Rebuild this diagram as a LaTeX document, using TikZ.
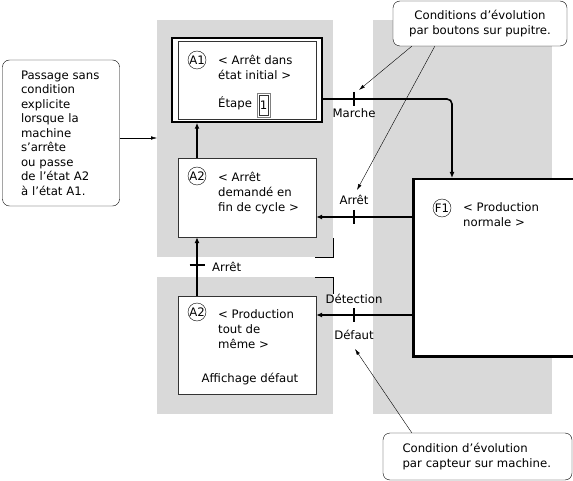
\documentclass[tikz,border=0pt]{standalone}
\usepackage{fontspec}
\setmainfont{DejaVu Sans}
\usetikzlibrary{arrows.meta,positioning}

\begin{document}
\begin{tikzpicture}[x=1pt,y=-1pt,
  font=\fontsize{11.7}{15}\selectfont,
  zone/.style={fill=black!15},
  etape/.style={draw=black!80,fill=white,inner sep=0pt},
  repere/.style={draw,circle,minimum size=18pt,inner sep=0pt},
  txt/.style={align=left,inner sep=0pt,anchor=base west},
  lbl/.style={inner sep=0pt,anchor=base},
  lien/.style={line width=1.6pt,-{Latex[length=6pt,width=5pt]}},
  trait/.style={line width=1.2pt},
  bulle/.style={draw,rounded corners=7pt,fill=white,inner sep=0pt},
  fleche/.style={-{Latex[length=6pt,width=3.5pt]}}]

\useasboundingbox (0,0) rectangle (573,481);
\clip (0,0) rectangle (573,481);
\fill[white] (0,0) rectangle (573,481);

% zones grises
\fill[zone] (157,20) rectangle (333,257);
\fill[zone] (157,277) rectangle (333,414);
\fill[zone] (373,20) rectangle (552,414);
\draw (315,257) -| (333,238);
\draw (315,277) -| (333,294);

% etapes
\node[etape,draw=black,line width=1.5pt,minimum width=150pt,minimum height=84pt] (a1) at (247,80) {};
\node[etape,minimum width=138pt,minimum height=78pt] (a1in) at (a1.center) {};
\node[etape,minimum width=138pt,minimum height=79pt] (a2) at (247,197.5) {};
\node[etape,minimum width=138pt,minimum height=98pt] (a2b) at (247,345) {};
\node[etape,draw=black,line width=2.5pt,minimum width=180pt,minimum height=177pt,anchor=north west] (f1) at (412,178) {};

% textes (base = derniere ligne)
\node[repere] (ra1) at (197,60) {A1};
\node[txt] (ta1) at (218,80) {< Arrêt dans\\état initial >};
\node[txt] (ea1) at (218,108) {Étape};
\node[draw=black!50,line width=0.8pt,minimum width=13pt,minimum height=24pt,inner sep=0pt] (n1) at (263.5,105) {};
\node[draw=black!80,line width=0.5pt,minimum width=9pt,minimum height=20pt,inner sep=0pt] (n1in) at (n1.center) {1};

\node[repere] (ra2) at (197,176) {A2};
\node[txt] (ta2) at (218,212) {< Arrêt\\demandé en\\fin de cycle >};

\node[repere] (ra2b) at (197,312) {A2};
\node[txt] (ta2b) at (218,348) {< Production\\tout de\\même >};
\node[lbl] (aff) at (250,382) {Affichage défaut};

\node[repere] (rf1) at (442,208) {F1};
\node[txt] (tf1) at (463,227) {< Production\\normale >};

% transitions
\coordinate (t1) at (354,99);
\coordinate (t2) at (354,217);
\coordinate (t3) at (354,315);
\coordinate (t4) at (197,265);
\coordinate (coin) at (452,99);

\draw[lien] (ra2 |- a2.north) -- (ra2 |- a1.south);
\draw[lien] (ra2b |- a2b.north) -- (ra2 |- a2.south);
\draw[lien,rounded corners=5pt] (a1.east |- t1) -- (coin) -- (coin |- f1.north);
\draw[lien] (f1.west |- t2) -- (a2.east |- t2);
\draw[lien] (f1.west |- t3) -- (a2b.east |- t3);

\draw[trait] ([yshift=7pt]t1) -- ([yshift=-7pt]t1);
\draw[trait] ([yshift=7pt]t2) -- ([yshift=-7pt]t2);
\draw[trait] ([yshift=7pt]t3) -- ([yshift=-7pt]t3);
\draw[trait] ([xshift=-7.5pt]t4) -- ([xshift=7.5pt]t4);

\node[lbl] (lm) at (354,118) {Marche};
\node[lbl] (la) at (354,205) {Arrêt};
\node[lbl] (ld) at (354,303) {Détection};
\node[lbl] (ldf) at (354,339) {Défaut};
\node[lbl,anchor=base west] (la2) at (212,272) {Arrêt};

% bulles
\node[bulle,minimum width=117pt,minimum height=146pt,text width=80pt,align=left,
  font=\fontsize{11.7}{14.5}\selectfont] (pass) at (61,133)
  {Passage sans\\condition\\explicite\\lorsque la\\machine\\s’arrête\\ou passe\\de l’état A2\\à l’état A1.};
\node[bulle,minimum width=174pt,minimum height=45pt,align=center] (bout) at (480,23.5)
  {Conditions d’évolution\\par boutons sur pupitre.};
\node[bulle,minimum width=189pt,minimum height=47pt,text width=150pt,align=left] (capt) at (477.5,456.5)
  {Condition d’évolution\\par capteur sur machine.};

\coordinate (pg) at (157,138);
\coordinate (pm) at (359,90);
\coordinate (pa) at (357,190);
\coordinate (pd) at (355,349);

\draw[fleche] (pass.east |- pg) -- (pg);
\draw[fleche] ([xshift=19pt]bout.south west) -- (pm);
\draw[fleche] ([xshift=42pt]bout.south west) -- (pa);
\draw[fleche] ([xshift=29pt]capt.north west) -- (pd);

\end{tikzpicture}
\end{document}
